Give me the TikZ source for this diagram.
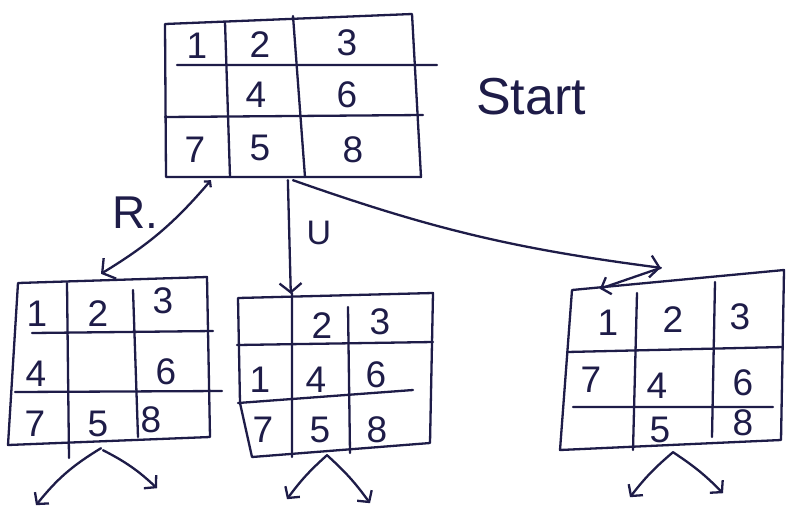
\documentclass[tikz,border=0pt]{standalone}
\usepackage{fontspec}
\setmainfont{Liberation Sans}
\usetikzlibrary{arrows.meta,calc,fit}
\definecolor{ink}{RGB}{30,28,72}
\begin{document}
\begin{tikzpicture}[x=1pt,y=-1pt,
  pen/.style={draw=ink,line width=2.3pt,line cap=round,line join=round},
  digit/.style={text=ink,inner sep=0pt,font=\fontsize{37}{37}\selectfont},
  tag/.style={text=ink,inner sep=0pt},
  frame/.style={inner sep=0pt},
  move/.style={pen,-{Straight Barb[length=9pt,width=22pt]}},
  branch/.style={pen,-{Straight Barb[length=8pt,width=18pt]}},
]
\useasboundingbox[fill=white] (0,0) rectangle (794,528);

% ---------- start position ----------
\draw[pen] (165,24) -- (412,14) -- (421,177) -- (166,177) -- cycle;
\draw[pen] (225,22) -- (230,177) (293,16) -- (305,177);
\draw[pen] (177,65) -- (437,65) (165,117) -- (423,115);
\node[frame,fit={(165,14) (421,177)}] (s) {};
\node[digit] (s11) at (197,46) {1};
\node[digit] (s12) at (260,45) {2};
\node[digit] (s13) at (347,43) {3};
\node[digit] (s22) at (256,95) {4};
\node[digit] (s23) at (347,95) {6};
\node[digit] (s31) at (195,150) {7};
\node[digit] (s32) at (260,148) {5};
\node[digit] (s33) at (353,150) {8};
\node[tag,font=\fontsize{52}{52}\selectfont] (start) at (531,97) {Start};

% ---------- after move R ----------
\draw[pen] (18,283) -- (207,277) -- (210,437) -- (8,445) -- cycle;
\draw[pen] (67,283) -- (69,458) (133,290) -- (138,437);
\draw[pen] (32,333) -- (213,331) (15,392) -- (222,391);
\node[frame,fit={(8,277) (210,445)}] (L) {};
\node[digit] (l11) at (37,314) {1};
\node[digit] (l12) at (98,314) {2};
\node[digit] (l13) at (163,301) {3};
\node[digit] (l21) at (36,374) {4};
\node[digit] (l23) at (166,372) {6};
\node[digit] (l31) at (35,424) {7};
\node[digit] (l32) at (98,424) {5};
\node[digit] (l33) at (151,420) {8};

% ---------- after move U ----------
\draw[pen] (238,298) -- (433,293) -- (430,443) -- (252,457) -- (240,403) -- cycle;
\draw[pen] (292,293) -- (292,457) (348,307) -- (350,453);
\draw[pen] (237,345) -- (433,342) (238,403) -- (413,390);
\node[frame,fit={(237,293) (433,457)}] (M) {};
\node[digit] (m12) at (322,326) {2};
\node[digit] (m13) at (380,322) {3};
\node[digit] (m21) at (260,380) {1};
\node[digit] (m22) at (316,380) {4};
\node[digit] (m23) at (376,375) {6};
\node[digit] (m31) at (263,430) {7};
\node[digit] (m32) at (320,430) {5};
\node[digit] (m33) at (377,430) {8};

% ---------- third successor ----------
\draw[pen] (572,290) -- (784,270) -- (781,440) -- (560,450) -- cycle;
\draw[pen] (637,293) -- (633,450) (715,282) -- (712,437);
\draw[pen] (567,352) -- (783,347) (573,407) -- (773,407);
\node[frame,fit={(560,270) (784,450)}] (Rb) {};
\node[digit] (r11) at (608,323) {1};
\node[digit] (r12) at (673,320) {2};
\node[digit] (r13) at (740,317) {3};
\node[digit] (r21) at (591,380) {7};
\node[digit] (r22) at (657,386) {4};
\node[digit] (r23) at (743,383) {6};
\node[digit] (r32) at (660,430) {5};
\node[digit] (r33) at (743,423) {8};

% ---------- moves from the start position ----------
\draw[pen,{Straight Barb[length=4pt,width=9pt]}-{Straight Barb[length=9pt,width=24pt]}]
  ($(s.south west)!.18!(s.south east)+(0,3)$) to[bend left=9] ($(L.north)+(-8,-3)$);
\node[tag,font=\fontsize{46}{46}\selectfont] (rlab) at (135,213) {R.};

\draw[move] ($(s.south west)!.48!(s.south east)+(0,3)$) -- ($(M.north west)+(54,1)$);
\node[tag,font=\fontsize{34}{34}\selectfont] (ulab) at (319,233) {U};

\coordinate (k) at ($(Rb.north west)+(101,-2)$);
\draw[move] ($(s.south west)!.5!(s.south east)+(0,3)$) to[bend right=6] (k);
\draw[branch] (k) -- ($(Rb.north west)+(40,19)$);

% ---------- further branches ----------
\coordinate (la) at ($(L.south)+(-73,60)$);
\coordinate (lb) at ($(L.south)+(48,43)$);
\draw[branch] ($(L.south)+(-8,3)$) to[bend right=10] (la);
\draw[branch] ($(L.south)+(-6,5)$) to[bend left=8] (lb);

\coordinate (ma) at ($(M.south)+(-48,42)$);
\coordinate (mb) at ($(M.south)+(35,46)$);
\draw[branch] ($(M.south)+(-8,-2)$) to[bend right=6] (ma);
\draw[branch] ($(M.south)+(-8,-2)$) to[bend left=6] (mb);

\coordinate (ra) at ($(Rb.south)+(-42,47)$);
\coordinate (rb) at ($(Rb.south)+(51,43)$);
\draw[branch] ($(Rb.south)+(1,2)$) to[bend right=6] (ra);
\draw[branch] ($(Rb.south)+(1,2)$) to[bend left=6] (rb);
\end{tikzpicture}
\end{document}
